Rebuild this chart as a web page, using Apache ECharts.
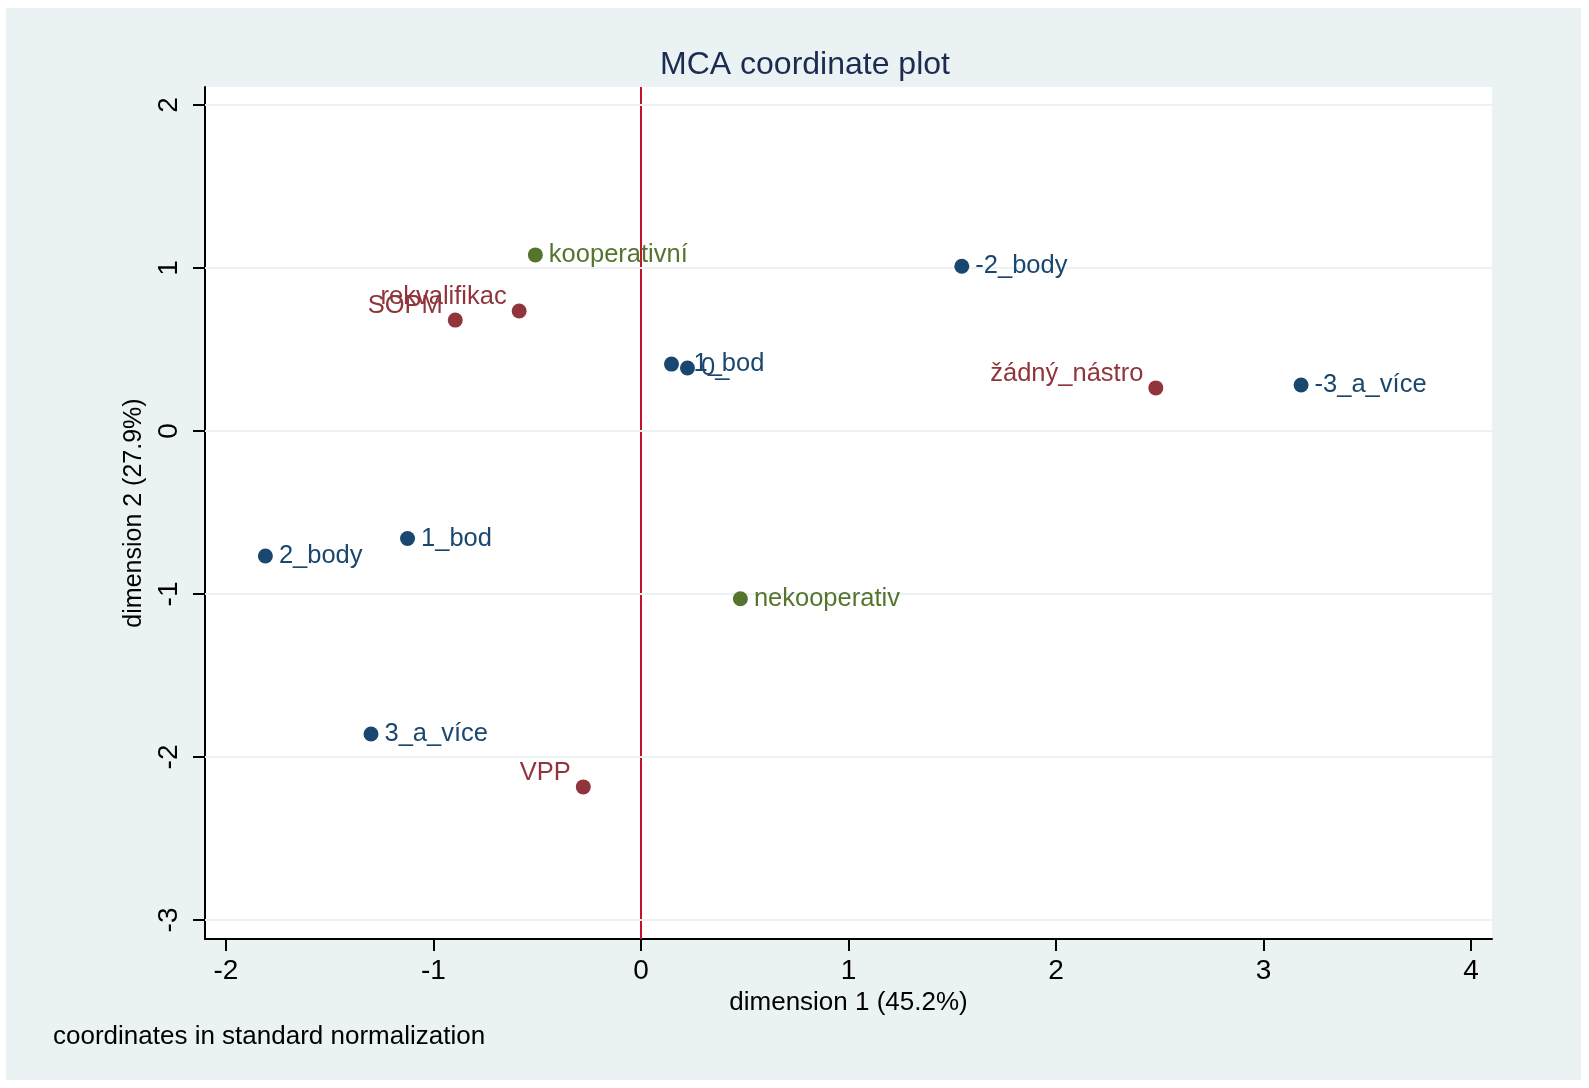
<!DOCTYPE html>
<html>
<head>
<meta charset="utf-8">
<script src="https://cdn.jsdelivr.net/npm/echarts@6/dist/echarts.min.js"></script>
<style>
  html, body { margin: 0; padding: 0; background: #ffffff; }
  #bg { position: absolute; left: 6px; top: 8px; width: 1575px; height: 1072px; background: #eaf2f3; }
  #chart { position: absolute; left: 0; top: 0; width: 1589px; height: 1088px; }
</style>
</head>
<body>
<div id="bg"></div>
<div id="chart"></div>
<script>
// Category points (dimension 1, dimension 2)
const blueLabels = ['-2_body', '-1_bod', '0_', '-3_a_více', '2_body', '1_bod', '3_a_více'];
const blueX = [1.546, 0.147, 0.224, 3.181, -1.81, -1.125, -1.301];
const blueY = [1.01, 0.41, 0.386, 0.282, -0.767, -0.66, -1.859];

const greenLabels = ['kooperativní', 'nekooperativ'];
const greenX = [-0.509, 0.479];
const greenY = [1.08, -1.03];

const redLabels = ['SOPM', 'rekvalifikac', 'žádný_nástro', 'VPP'];
const redX = [-0.895, -0.587, 2.481, -0.278];
const redY = [0.68, 0.736, 0.264, -2.184];

const xTicks = [-2, -1, 0, 1, 2, 3, 4];
const yTicks = [-3, -2, -1, 0, 1, 2];

const NAVY = '#1a476f', GREEN = '#55752f', MAROON = '#90353b';
const FONT = '"Liberation Sans", Arial, Helvetica, sans-serif';

function pts(xs, ys, labels) {
  return xs.map((x, i) => ({ value: [x, ys[i]], name: labels[i] }));
}

const chart = echarts.init(document.getElementById('chart'), null, { renderer: 'canvas' });

const LBL = 25.5;
const labelRight = (color) => ({
  show: true, position: 'right', distance: 6, formatter: p => p.name,
  color: color, fontSize: LBL, fontFamily: FONT
});
const labelLeftUp = (color) => ({
  show: true, position: 'left', distance: 5, offset: [0, -14], formatter: p => p.name,
  color: color, fontSize: LBL, fontFamily: FONT
});

const option = {
  backgroundColor: 'transparent',
  animation: false,
  textStyle: { fontFamily: FONT },
  grid: {
    left: 205, top: 87, right: 97, bottom: 149,
    show: true, backgroundColor: '#ffffff', borderWidth: 0
  },
  graphic: [
    { type: 'text', x: 805, y: 65, style: { text: 'MCA coordinate plot', fill: '#1c2b50', font: '32px ' + FONT, textAlign: 'center', textVerticalAlign: 'middle' } },
    { type: 'text', x: 53, y: 1037, style: { text: 'coordinates in standard normalization', fill: '#000000', font: '26px ' + FONT, textAlign: 'left', textVerticalAlign: 'middle' } }
  ],
  xAxis: {
    type: 'value', min: -2.101, max: 4.101,
    name: 'dimension 1 (45.2%)', nameLocation: 'middle', nameGap: 49,
    nameTextStyle: { color: '#000', fontSize: 26, fontFamily: FONT },
    axisLine: { show: true, onZero: false, lineStyle: { color: '#000', width: 2 } },
    axisTick: { show: true, length: 12, lineStyle: { color: '#000', width: 2 }, customValues: xTicks },
    axisLabel: { color: '#000', fontSize: 28, fontFamily: FONT, margin: 18, customValues: xTicks, formatter: v => String(v) },
    splitLine: { show: false }
  },
  yAxis: {
    type: 'value', min: -3.117, max: 2.11,
    name: 'dimension 2 (27.9%)', nameLocation: 'middle', nameGap: 56, nameRotate: 90,
    nameTextStyle: { color: '#000', fontSize: 25, fontFamily: FONT },
    axisLine: { show: true, onZero: false, lineStyle: { color: '#000', width: 2 } },
    axisTick: { show: true, length: 12, lineStyle: { color: '#000', width: 2 }, customValues: yTicks },
    axisLabel: { color: '#000', fontSize: 28, fontFamily: FONT, margin: 22, rotate: 90, customValues: yTicks, formatter: v => String(v) },
    splitLine: { show: false }
  },
  series: [
    {
      type: 'scatter', data: [], silent: true, z: 1,
      markLine: {
        silent: true, symbol: 'none', label: { show: false },
        lineStyle: { color: '#eaf2f3', width: 2, type: 'solid' },
        data: yTicks.map(v => ({ yAxis: v }))
      }
    },
    {
      type: 'scatter', data: [], silent: true, z: 2,
      markLine: {
        silent: true, symbol: 'none', label: { show: false }, z: 3,
        lineStyle: { color: '#c8102e', width: 2, type: 'solid' },
        data: [{ xAxis: 0 }, { yAxis: 0 }]
      }
    },
    {
      type: 'scatter', symbolSize: 15, z: 5,
      itemStyle: { color: NAVY, opacity: 1 },
      label: labelRight(NAVY),
      data: pts(blueX, blueY, blueLabels)
    },
    {
      type: 'scatter', symbolSize: 15, z: 5,
      itemStyle: { color: GREEN, opacity: 1 },
      label: labelRight(GREEN),
      data: pts(greenX, greenY, greenLabels)
    },
    {
      type: 'scatter', symbolSize: 15, z: 5,
      itemStyle: { color: MAROON, opacity: 1 },
      label: labelLeftUp(MAROON),
      data: pts(redX, redY, redLabels)
    }
  ]
};
chart.setOption(option);
</script>
</body>
</html>
